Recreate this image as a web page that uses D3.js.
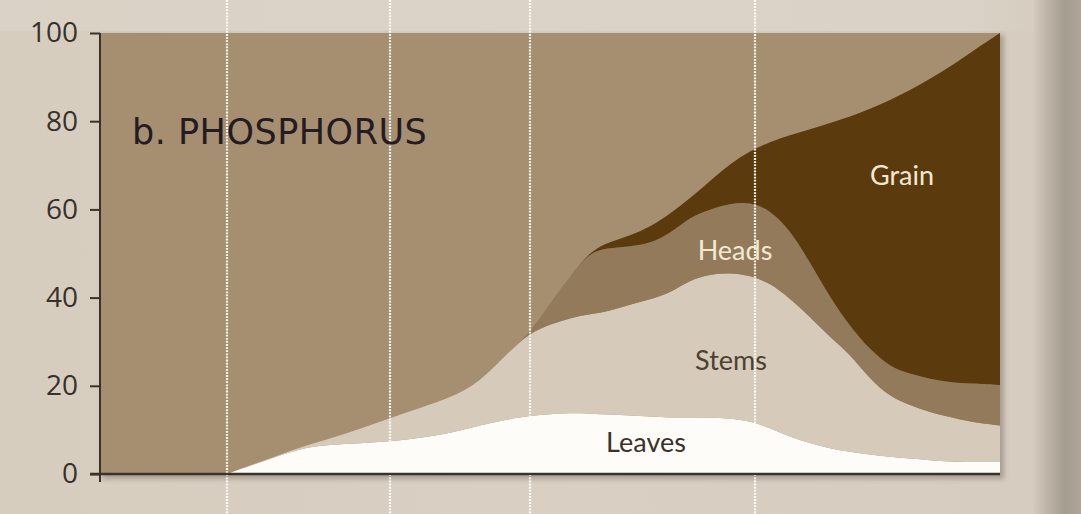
<!DOCTYPE html>
<html>
<head>
<meta charset="utf-8">
<script src="https://cdn.jsdelivr.net/npm/d3@7"></script>
<style>
  html, body { margin: 0; padding: 0; background: #d8cfc2; }
  svg { display: block; }
</style>
</head>
<body>
<svg id="chart" width="1081" height="514"></svg>
<script>
// Share of season-total phosphorus uptake held in each plant part (%)
const days   = [12.7, 16, 20, 23, 26, 29, 32, 35, 38, 41, 43, 45, 47, 49, 51, 53, 55, 57, 59, 61, 63, 65, 67, 69, 71, 73, 75, 77, 79, 81, 83, 85, 87, 90];
const leaves = [0, 2.6, 5.9, 6.6, 7.0, 7.3, 8.2, 9.2, 11.1, 12.5, 13.2, 13.6, 13.8, 13.7, 13.5, 13.3, 13.0, 12.8, 12.8, 12.8, 12.6, 12.0, 10.5, 8.4, 7.0, 5.8, 5.0, 4.4, 3.9, 3.5, 3.1, 2.8, 2.7, 2.7];
const stems  = [0, 0.1, 0.2, 1.4, 3.2, 5.4, 6.8, 8.0, 9.7, 15.5, 18.8, 20.3, 21.6, 22.5, 23.5, 25.1, 26.6, 28.2, 31.2, 32.5, 33.0, 33.0, 32.8, 31.4, 28.6, 25.2, 22.2, 17.1, 13.6, 12.1, 10.9, 10.1, 9.1, 8.3];
const heads  = [0, 0, 0, 0, 0, 0, 0, 0, 0, 0, 0, 4.9, 9.4, 14.3, 14.3, 13.2, 12.7, 13.5, 14.3, 14.7, 15.7, 16.7, 16.6, 15.5, 12.4, 9.0, 6.3, 6.7, 6.8, 7.1, 7.5, 7.9, 8.7, 9.2];
const grain  = [0, 0, 0, 0, 0, 0, 0, 0, 0, 0, 0, 0, 0, 0, 1.4, 2.4, 3.7, 4.5, 4.2, 6.5, 9.0, 11.6, 15.4, 21.6, 30.1, 39.6, 47.5, 54.6, 60.5, 64.3, 68.1, 71.5, 75.0, 79.8];

const partNames  = ["Leaves", "Stems", "Heads", "Grain"];
const stageDays  = [12.7, 29, 43, 65.5];
const yTicks     = [0, 20, 40, 60, 80, 100];
const dayDomain  = [0, 90];
const titleText  = "b. PHOSPHORUS";

const partSeries = { Leaves: leaves, Stems: stems, Heads: heads, Grain: grain };
const rows = days.map((d, i) => {
  const r = { day: d };
  partNames.forEach(k => { r[k] = partSeries[k][i]; });
  return r;
});

const svg = d3.select("#chart");
const W = 1081, H = 514;
const plotL = 100, plotR = 1000, plotT = 33, plotB = 474;

const x = d3.scaleLinear().domain(dayDomain).range([plotL, plotR]);
const y = d3.scaleLinear().domain([0, 100]).range([plotB, plotT]);

const defs = svg.append("defs");
const pageGrad = defs.append("linearGradient").attr("id", "page").attr("x1", 0).attr("x2", 1).attr("y1", 0).attr("y2", 0);
[[0, "#d6cdbf"], [0.5, "#d9d0c3"], [0.955, "#d6cdc0"], [0.968, "#bfb6a9"], [0.985, "#a69d91"], [1, "#aea498"]]
  .forEach(([o, c]) => pageGrad.append("stop").attr("offset", o).attr("stop-color", c));
const topGrad = defs.append("linearGradient").attr("id", "topband").attr("x1", 0).attr("x2", 1).attr("y1", 0).attr("y2", 0);
[[0, "#ddd5ca", 0.6], [0.93, "#ddd5ca", 0.6], [1, "#ddd5ca", 0]]
  .forEach(([o, c, a]) => topGrad.append("stop").attr("offset", o).attr("stop-color", c).attr("stop-opacity", a));
const shadow = defs.append("filter").attr("id", "shadow").attr("x", "-5%").attr("y", "-5%").attr("width", "110%").attr("height", "115%");
shadow.append("feGaussianBlur").attr("stdDeviation", 2.5);

// page
svg.append("rect").attr("width", W).attr("height", H).attr("fill", "url(#page)");
svg.append("rect").attr("x", 0).attr("y", 0).attr("width", 1040).attr("height", plotT - 2).attr("fill", "url(#topband)");

// panel with soft shadow
svg.append("rect").attr("x", plotL + 2).attr("y", plotT + 2).attr("width", plotR - plotL + 2).attr("height", plotB - plotT + 3)
  .attr("fill", "#6f6558").attr("opacity", 0.45).attr("filter", "url(#shadow)");
svg.append("rect").attr("x", plotL).attr("y", plotT).attr("width", plotR - plotL).attr("height", plotB - plotT).attr("fill", "#a68f71");

// stacked areas
const stack = d3.stack().keys(partNames);
const layers = stack(rows);
const colors = { Leaves: "#fdfcf8", Stems: "#d6cbba", Heads: "#927a5b", Grain: "#5b3b0e" };
const area = d3.area()
  .x(d => x(d.data.day))
  .y0(d => y(d[0]))
  .y1(d => y(d[1]))
  .curve(d3.curveBasis);

svg.append("g").selectAll("path")
  .data(layers)
  .join("path")
  .attr("d", area)
  .attr("fill", d => colors[d.key]);

// growth-stage markers
svg.append("g").selectAll("line")
  .data(stageDays)
  .join("line")
  .attr("x1", d => x(d)).attr("x2", d => x(d))
  .attr("y1", 0).attr("y2", H)
  .attr("stroke", "#fffdf6")
  .attr("stroke-width", 2.2)
  .attr("stroke-dasharray", "1.8,1.3");

// y axis
const yAxis = d3.axisLeft(y).tickValues(yTicks).tickSize(10).tickPadding(12);
const gy = svg.append("g").attr("transform", `translate(${plotL},0)`).call(yAxis);
gy.select(".domain").remove();
gy.selectAll(".tick line").attr("stroke", "#3a332b").attr("stroke-width", 2);
gy.selectAll(".tick text")
  .attr("fill", "#37312b")
  .style("font-family", "'Open Sans', sans-serif")
  .style("font-size", "28px");
svg.append("line").attr("x1", plotL).attr("x2", plotL).attr("y1", plotT).attr("y2", plotB + 8)
  .attr("stroke", "#3a332b").attr("stroke-width", 2);

// x axis baseline
svg.append("line").attr("x1", plotL - 10).attr("x2", plotR).attr("y1", plotB).attr("y2", plotB)
  .attr("stroke", "#3a332b").attr("stroke-width", 2.5);

// title
svg.append("text")
  .attr("x", x(3.2)).attr("y", y(74.9))
  .attr("fill", "#241c22")
  .style("font-family", "'DejaVu Sans', sans-serif")
  .style("font-size", "35px")
  .style("letter-spacing", "0.5px")
  .text(titleText);

// part labels
const labelSpots = [
  { name: "Leaves", day: 54.6, pct: 4.9,  color: "#3a3229" },
  { name: "Stems",  day: 63.1, pct: 23.6, color: "#4e4131" },
  { name: "Heads",  day: 63.5, pct: 48.5, color: "#f3e9d3" },
  { name: "Grain",  day: 80.2, pct: 65.5, color: "#f3e9d3" }
];
svg.append("g").selectAll("text")
  .data(labelSpots)
  .join("text")
  .attr("x", d => x(d.day))
  .attr("y", d => y(d.pct))
  .attr("text-anchor", "middle")
  .attr("fill", d => d.color)
  .style("font-family", "Lato, sans-serif")
  .style("font-size", "27px")
  .text(d => d.name);
</script>
</body>
</html>
